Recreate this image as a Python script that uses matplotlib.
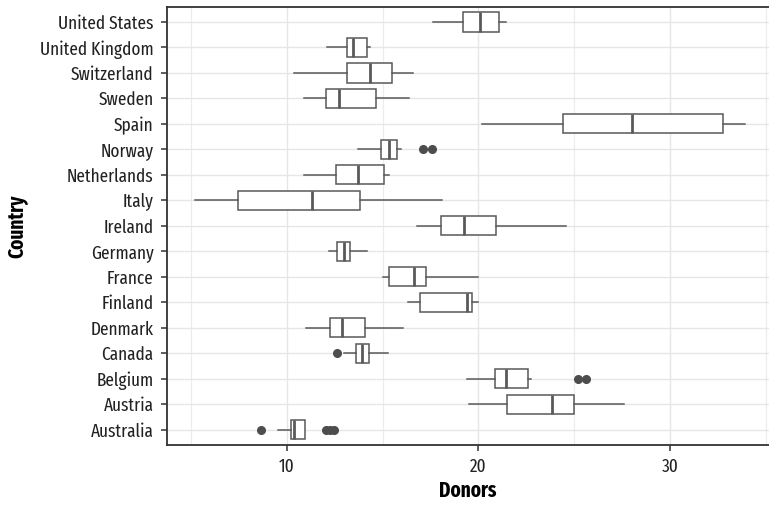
import matplotlib
matplotlib.use('Agg')
import matplotlib.pyplot as plt
from matplotlib.ticker import MultipleLocator

# countries, bottom to top
countries = ['Australia', 'Austria', 'Belgium', 'Canada', 'Denmark', 'Finland',
             'France', 'Germany', 'Ireland', 'Italy', 'Netherlands', 'Norway',
             'Spain', 'Sweden', 'Switzerland', 'United Kingdom', 'United States']

whislo = [9.53, 19.53, 19.43, 13.01, 11.01, 16.31, 15.01, 12.21, 16.80, 5.20,
          10.90, 13.70, 20.21, 10.90, 10.40, 12.10, 17.63]
q1 = [10.21, 21.48, 20.88, 13.63, 12.27, 16.94, 15.32, 12.64, 18.03, 7.46,
      12.57, 14.90, 24.40, 12.03, 13.15, 13.15, 19.20]
med = [10.37, 23.85, 21.45, 13.94, 12.88, 19.39, 16.64, 12.97, 19.24, 11.30,
       13.74, 15.35, 27.99, 12.71, 14.35, 13.47, 20.10]
q3 = [10.97, 25.00, 22.60, 14.31, 14.07, 19.65, 17.27, 13.32, 20.94, 13.82,
      15.09, 15.77, 32.74, 14.68, 15.48, 14.21, 21.06]
whishi = [10.97, 27.58, 22.77, 15.27, 16.08, 19.98, 19.98, 14.17, 24.59, 18.09,
          15.35, 15.98, 33.89, 16.38, 16.59, 14.36, 21.46]
outliers = [[8.66, 12.05, 12.26, 12.47], [], [25.2, 25.6], [12.61], [], [], [],
            [], [], [], [], [17.09, 17.58], [], [], [], [], []]

plt.rcParams['font.family'] = ['Fira Sans Extra Condensed', 'Barlow Condensed',
                               'Fira Sans Condensed', 'DejaVu Sans']

fig = plt.figure(figsize=(7.69, 5.12), dpi=100)
ax = fig.add_axes([166.7 / 769, 1 - 445 / 512, 1 - 166.7 / 769, (445 - 6.7) / 512])

stats = []
for i in range(len(countries)):
    stats.append(dict(whislo=whislo[i], q1=q1[i], med=med[i], q3=q3[i],
                      whishi=whishi[i], fliers=outliers[i]))

edge = '#595959'
ax.bxp(stats, positions=range(len(countries)), widths=0.75, vert=False,
       showcaps=False, patch_artist=True,
       boxprops=dict(facecolor='white', edgecolor=edge, linewidth=1.1),
       whiskerprops=dict(color=edge, linewidth=1.1),
       medianprops=dict(color=edge, linewidth=2.0),
       flierprops=dict(marker='o', markerfacecolor='#4d4d4d', markeredgecolor='#4d4d4d',
                       markersize=5.5))

ax.set_xlim(3.74, 35.16)
ax.set_ylim(-0.6, len(countries) - 0.4)
ax.set_yticks(range(len(countries)))
ax.set_yticklabels(countries)
ax.xaxis.set_major_locator(MultipleLocator(10))
ax.xaxis.set_minor_locator(MultipleLocator(5))
ax.set_axisbelow(True)
ax.grid(True, which='major', color='#e6e6e6', linewidth=1.0)
ax.grid(True, which='minor', axis='x', color='#ececec', linewidth=0.8)
ax.tick_params(which='minor', length=0)
ax.tick_params(which='major', length=4.5, width=1.1, color='#333333',
               labelsize=13.5, labelcolor='#222222', pad=5)
ax.tick_params(axis='x', pad=5)

for side in ['left', 'bottom', 'top']:
    ax.spines[side].set_color('#333333')
    ax.spines[side].set_linewidth(1.3)
ax.spines['right'].set_visible(False)

ax.set_xlabel('Donors', fontsize=15, fontweight='bold', labelpad=3)
ax.set_ylabel('Country', fontsize=15, fontweight='bold')
ax.yaxis.set_label_coords(-139 / 602.3, 0.5)

fig.savefig('out.png', dpi=100)
